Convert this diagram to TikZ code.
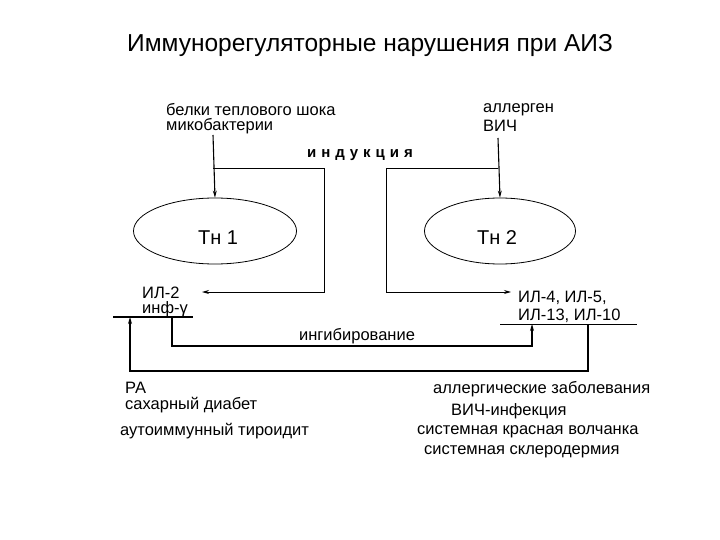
\documentclass[tikz,border=0pt]{standalone}
\usepackage{fontspec}
\setmainfont{Liberation Sans}
\usetikzlibrary{arrows.meta,shapes.geometric}
\begin{document}
\begin{tikzpicture}[x=1pt,y=-1pt,
  txt/.style={inner sep=0pt,font=\fontsize{16.5}{17}\selectfont,anchor=west},
  ar/.style={line width=1.1pt,-{Stealth[length=7pt,width=4pt]}},
  ar2/.style={line width=0.9pt,-{Stealth[length=7pt,width=4pt]}},
  ell/.style={draw,ellipse,line width=0.8pt,inner sep=0pt}]
\useasboundingbox (0,0) rectangle (720,540);
\node[inner sep=0pt,font=\fontsize{24.5}{26}\selectfont] (title) at (370,45) {Иммунорегуляторные нарушения при АИЗ};
\node[txt] (s1a) at (166,110) {белки теплового шока};
\node[txt] (s1b) at (166,126) {микобактерии};
\node[txt] (s2a) at (483,110) {аллерген};
\node[txt] (s2b) at (483,126) {ВИЧ};
\node[ell,minimum width=163pt,minimum height=66pt] (th1) at (215,231) {};
\node[font=\fontsize{20}{21}\selectfont] (th1t) at (218,238) {Тн 1};
\node[ell,minimum width=151pt,minimum height=66pt] (th2) at (500,231) {};
\node[font=\fontsize{20}{21}\selectfont] (th2t) at (497,238) {Тн 2};
\node[inner sep=0pt,font=\bfseries\fontsize{15}{16}\selectfont] (ind) at (360,155) {и\,\,н\,\,д\,\,у\,\,к\,\,ц\,\,и\,\,я};
\coordinate (a1) at (213,135);
\coordinate (a2) at (498,138);
\draw[ar] (a1) -- (th1.north);
\draw[ar] (a2) -- (th2.north);
\coordinate (l1) at (213,168); \coordinate (l2) at (324,168); \coordinate (l3) at (324,292);
\coordinate (l4) at (202,292);
\draw[ar2] (l1) -- (l2) -- (l3) -- (l4);
\coordinate (r1) at (498,168); \coordinate (r2) at (386,168); \coordinate (r3) at (386,292);
\coordinate (r4) at (511,292);
\draw[ar2] (r1) -- (r2) -- (r3) -- (r4);
\node[txt] (il2a) at (142,293) {ИЛ-2};
\node[txt] (il2b) at (142,309) {инф-γ};
\node[txt] (il4a) at (518,298) {ИЛ-4, ИЛ-5,};
\node[txt] (il4b) at (518,316) {ИЛ-13, ИЛ-10};
\coordinate (u1) at (113,317); \coordinate (u2) at (193,317);
\draw[line width=1.6pt] (u1) -- (u2);
\coordinate (v1) at (500,324); \coordinate (v2) at (637,324);
\draw[line width=0.9pt] (v1) -- (v2);
\coordinate (i1) at (172,317); \coordinate (i2) at (172,346); \coordinate (i3) at (532,346); \coordinate (i4) at (532,324);
\draw[ar] (i1) -- (i2) -- (i3) -- (i4);
\node[txt,anchor=center] (inh) at (357,336) {ингибирование};
\coordinate (o1) at (588,324); \coordinate (o2) at (588,371); \coordinate (o3) at (130,371); \coordinate (o4) at (130,317);
\draw[ar] (o1) -- (o2) -- (o3) -- (o4);
\node[txt] (ra) at (125,388) {РА};
\node[txt] (sd) at (125,405) {сахарный диабет};
\node[txt] (at) at (120,431) {аутоиммунный тироидит};
\node[txt] (al) at (433,389) {аллергические заболевания};
\node[txt] (hiv) at (451,411) {ВИЧ-инфекция};
\node[txt] (skv) at (417,432) {системная красная волчанка};
\node[txt] (ssd) at (424,452) {системная склеродермия};
\end{tikzpicture}
\end{document}
